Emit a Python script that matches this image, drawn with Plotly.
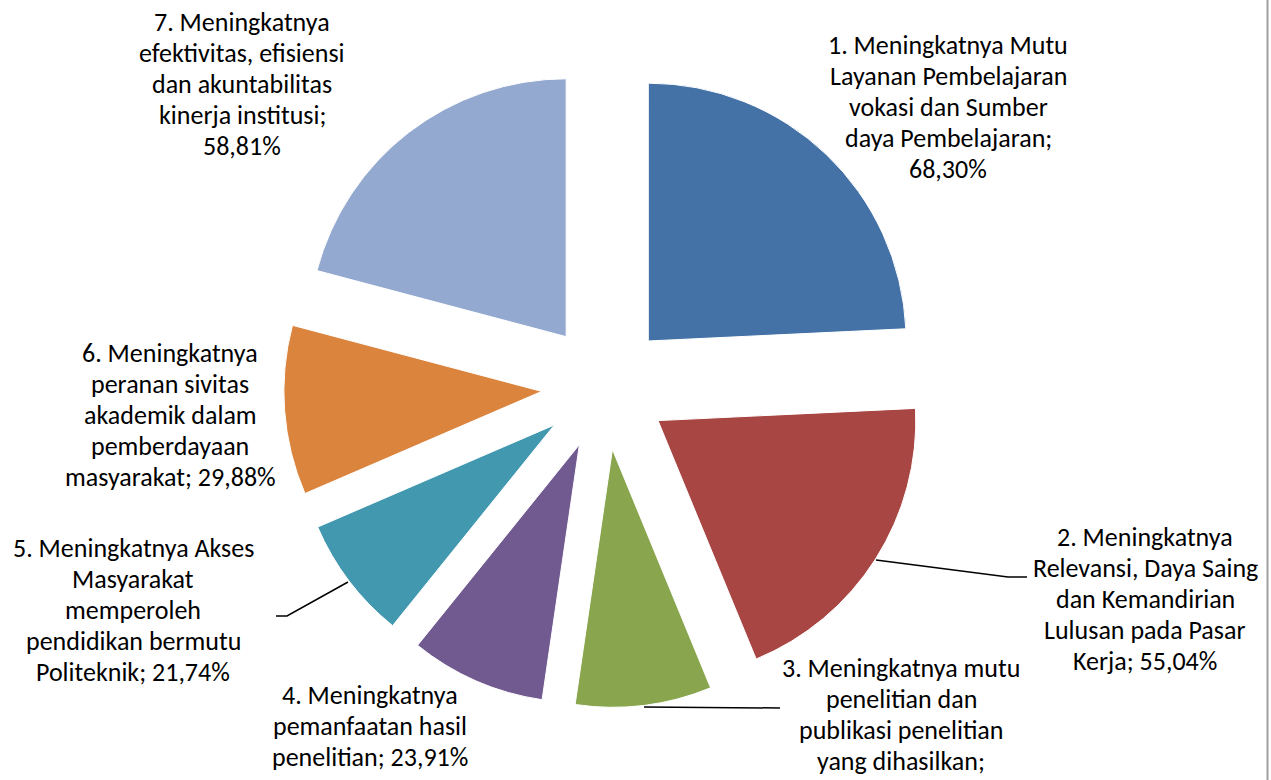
import plotly.graph_objects as go

W, H = 1271, 780

labels = [
    "1. Meningkatnya Mutu<br>Layanan Pembelajaran<br>vokasi dan Sumber<br>daya Pembelajaran;",
    "2. Meningkatnya<br>Relevansi, Daya Saing<br>dan Kemandirian<br>Lulusan pada Pasar<br>Kerja;",
    "3. Meningkatnya mutu<br>penelitian dan<br>publikasi penelitian<br>yang dihasilkan;",
    "4. Meningkatnya<br>pemanfaatan hasil<br>penelitian;",
    "5. Meningkatnya Akses<br>Masyarakat<br>memperoleh<br>pendidikan bermutu<br>Politeknik;",
    "6. Meningkatnya<br>peranan sivitas<br>akademik dalam<br>pemberdayaan<br>masyarakat;",
    "7. Meningkatnya<br>efektivitas, efisiensi<br>dan akuntabilitas<br>kinerja institusi;",
]
values = [68.30, 55.04, 24.02, 23.91, 21.74, 29.88, 58.81]
colors = ["#4472A7", "#A84643", "#89A54E", "#715A8F", "#4198AF", "#DB843D", "#94A9D0"]
# value on new line or same line
value_sep = ["<br>", " ", "<br>", " ", " ", " ", "<br>"]

# label block: centre x and first-line centre y (pixels); line step
label_pos = [(948, 45), (1145, 537), (901, 668), (370, 695), (133, 548), (170, 353), (242, 22)]
LINE_STEP = 31
leaders = {
    1: [(876, 560), (1008, 577), (1027, 577)],
    2: [(644, 707), (780, 708)],
    4: [(348, 582), (287, 616), (276, 616)],
}

def px(x):
    return x / W

def py(y):
    return 1 - y / H

def fmt(v):
    return f"{v:.2f}".replace(".", ",") + "%"

fig = go.Figure()
fig.add_trace(go.Pie(
    values=values,
    labels=[f"s{i}" for i in range(len(values))],
    marker=dict(colors=colors, line=dict(color="white", width=1)),
    sort=False,
    direction="clockwise",
    rotation=0,
    pull=[0.245] * len(values),
    textinfo="none",
    hoverinfo="label+value",
    showlegend=False,
    domain=dict(x=[px(283.7), px(925.7)], y=[py(707.7), py(65.7)]),
))

font = dict(family="Carlito, 'Open Sans', sans-serif", size=26, color="black")
for i, (lab, v) in enumerate(zip(labels, values)):
    cx, cy0 = label_pos[i]
    lines = (lab + value_sep[i] + fmt(v)).split("<br>")
    for j, line in enumerate(lines):
        fig.add_annotation(
            x=px(cx), y=py(cy0 + j * LINE_STEP), xref="paper", yref="paper",
            text=line,
            showarrow=False, align="center", xanchor="center", yanchor="middle",
            font=font,
        )

shapes = []
for k, pts in leaders.items():
    path = "M " + " L ".join(f"{px(x)} {py(y)}" for x, y in pts)
    shapes.append(dict(type="path", path=path, xref="paper", yref="paper",
                       line=dict(color="black", width=1.5)))
shapes.append(dict(type="line", xref="paper", yref="paper", x0=px(1267.5), x1=px(1267.5),
                   y0=0, y1=1, line=dict(color="#A0A0A0", width=2)))

fig.update_layout(
    width=W, height=H,
    margin=dict(l=0, r=0, t=0, b=0),
    paper_bgcolor="white",
    plot_bgcolor="white",
    shapes=shapes,
)

fig.write_html("out.html", config={"displayModeBar": False},
               post_script="document.body.style.margin='0';document.body.style.overflow='hidden';")
